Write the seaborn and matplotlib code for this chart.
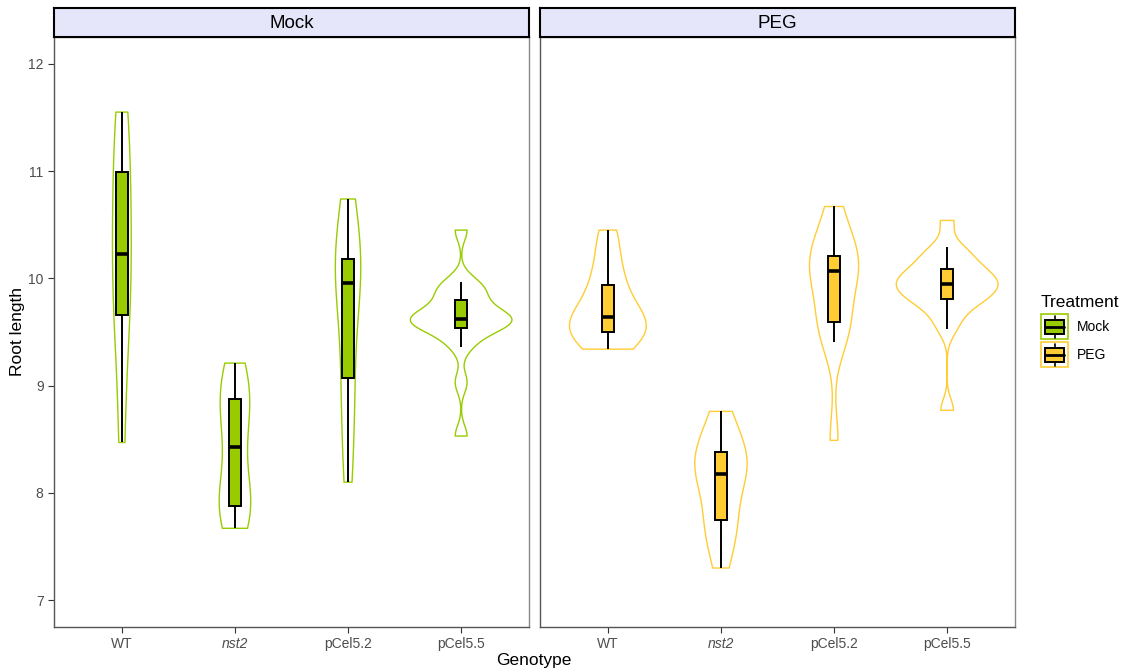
import numpy as np
import pandas as pd
import matplotlib
matplotlib.use("Agg")
import matplotlib.pyplot as plt
import seaborn as sns
from matplotlib.lines import Line2D
from matplotlib.patches import Patch, Rectangle
from matplotlib.legend_handler import HandlerBase

# ---- data (root length per plant) ----
genotypes = ["WT", "nst2", "pCel5.2", "pCel5.5"]
treatments = ["Mock", "PEG"]

mock_wt = [8.47, 9.35, 9.66, 10.05, 10.23, 10.55, 10.99, 11.25, 11.55]
mock_nst2 = [7.67, 7.75, 7.85, 7.88, 8.00, 8.15, 8.425, 8.60, 8.75, 8.875, 8.95, 9.10, 9.21]
mock_pcel52 = [8.10, 8.55, 8.95, 9.19, 9.70, 9.96, 10.05, 10.12, 10.24, 10.45, 10.74]
mock_pcel55 = [8.53, 9.03, 9.36, 9.45, 9.52, 9.56, 9.58, 9.60, 9.61, 9.62,
               9.64, 9.66, 9.70, 9.77, 9.83, 9.88, 9.93, 9.97, 10.45]

peg_wt = [9.34, 9.40, 9.46, 9.50, 9.55, 9.60, 9.64, 9.70, 9.80, 9.94, 10.05, 10.25, 10.45]
peg_nst2 = [7.30, 7.55, 7.68, 7.75, 7.95, 8.10, 8.18, 8.25, 8.30, 8.38, 8.45, 8.60, 8.76]
peg_pcel52 = [8.49, 9.41, 9.50, 9.59, 9.75, 9.90, 10.07, 10.10, 10.15, 10.21, 10.30, 10.45, 10.67]
peg_pcel55 = [8.77, 9.53, 9.65, 9.75, 9.80, 9.82, 9.85, 9.90, 9.93, 9.95,
              9.97, 10.00, 10.03, 10.07, 10.11, 10.18, 10.23, 10.29, 10.54]

groups = {
    "Mock": [mock_wt, mock_nst2, mock_pcel52, mock_pcel55],
    "PEG": [peg_wt, peg_nst2, peg_pcel52, peg_pcel55],
}
colors = {"Mock": "#99CC00", "PEG": "#FFCC33"}

rows = []
for trt in treatments:
    for geno, vals in zip(genotypes, groups[trt]):
        for v in vals:
            rows.append({"Treatment": trt, "Genotype": geno, "Root length": v})
df = pd.DataFrame(rows)


def nrd0(kde):
    # R's default bandwidth (bw.nrd0), as a factor of the sd for scipy
    x = kde.dataset[0]
    sd = np.std(x, ddof=1)
    q75, q25 = np.percentile(x, [75, 25])
    lo = min(sd, (q75 - q25) / 1.34)
    return 0.9 * lo * len(x) ** -0.2 / sd


class BoxKey(HandlerBase):
    # legend key like ggplot's: violin outline with a small boxplot inside
    def create_artists(self, legend, orig_handle, xdescent, ydescent,
                       width, height, fontsize, trans):
        col = orig_handle.get_facecolor()
        cx = width / 2 - xdescent
        cy = height / 2 - ydescent
        w, h = 19.4, 18.0
        outline = Rectangle((cx - w / 2, cy - h / 2), w, h, facecolor="white",
                            edgecolor=col, lw=1.2, transform=trans)
        whisker = Line2D([cx, cx], [cy - h / 2 + 1, cy + h / 2 - 1], color="black",
                         lw=1.2, transform=trans)
        box = Rectangle((cx - 7, cy - 5), 14, 10, facecolor=col, edgecolor="black",
                        lw=1.4, transform=trans)
        med = Line2D([cx - 7, cx + 7], [cy, cy], color="black", lw=2.0, transform=trans)
        return [outline, whisker, box, med]


# ---- figure ----
sns.set_style("white")
plt.rcParams["font.family"] = ["Liberation Sans", "DejaVu Sans"]
plt.rcParams["text.color"] = "black"

W, H = 1127, 672
fig = plt.figure(figsize=(W / 100, H / 100), dpi=100)

panels = [(54, 529), (540, 1015)]
top, bottom = 37, 627

for (x0, x1), trt in zip(panels, treatments):
    ax = fig.add_axes([x0 / W, 1 - bottom / H, (x1 - x0) / W, (bottom - top) / H])
    sub = df[df["Treatment"] == trt]

    sns.violinplot(data=sub, x="Genotype", y="Root length", order=genotypes,
                   color=colors[trt], fill=False, inner=None, cut=0,
                   density_norm="area", width=0.9, bw_method=nrd0,
                   saturation=1, linewidth=1.0, ax=ax)
    sns.boxplot(data=sub, x="Genotype", y="Root length", order=genotypes,
                color=colors[trt], width=0.1, showfliers=False, showcaps=False,
                saturation=1, linecolor="black", linewidth=1.4,
                medianprops=dict(linewidth=2.6), ax=ax)

    ax.set_xlim(-0.6, 3.6)
    ax.set_ylim(6.75, 12.25)
    ax.set_xlabel("")
    ax.set_ylabel("")
    ax.set_yticks([7, 8, 9, 10, 11, 12])
    ax.set_xticks(range(len(genotypes)))
    ax.set_xticklabels(genotypes)
    ax.get_xticklabels()[1].set_fontstyle("italic")
    ax.tick_params(axis="both", labelsize=10, labelcolor="#4D4D4D", color="#333333",
                   length=4, width=0.8, left=(trt == "Mock"), bottom=True)
    if trt != "Mock":
        ax.set_yticklabels([])
    for side, sp in ax.spines.items():
        sp.set_visible(True)
        sp.set_color("#555555" if side in ("left", "bottom") else "#888888")
        sp.set_linewidth(1.0)

    # facet strip
    sax = fig.add_axes([x0 / W, 1 - top / H, (x1 - x0) / W, 29 / H])
    sax.set_facecolor("#E6E6FA")
    sax.set_xticks([])
    sax.set_yticks([])
    for sp in sax.spines.values():
        sp.set_color("black")
        sp.set_linewidth(1.5)
    sax.text(0.5, 0.48, trt, ha="center", va="center", fontsize=13.5, color="black",
             transform=sax.transAxes)

fig.text(18 / W, 1 - 332 / H, "Root length", rotation=90, ha="center", va="center",
         fontsize=12.5, color="black")
fig.text(534 / W, 1 - 661 / H, "Genotype", ha="center", va="center", fontsize=12.5,
         color="black")

handles = [Patch(facecolor=colors[t]) for t in treatments]
fig.legend(handles, treatments, title="Treatment", loc="upper left",
           bbox_to_anchor=(1041 / W, 1 - 295 / H), frameon=False, fontsize=10,
           title_fontsize=12.5, handlelength=1.95, handleheight=2.0, labelspacing=0.45,
           handletextpad=0.6, alignment="left", borderaxespad=0, borderpad=0,
           handler_map={Patch: BoxKey()})

fig.savefig("out.png", dpi=100)
